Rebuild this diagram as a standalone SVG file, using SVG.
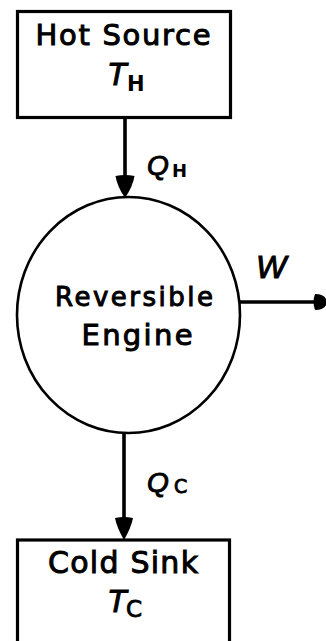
<svg xmlns="http://www.w3.org/2000/svg" width="326" height="641" viewBox="0 0 326 641">
<style>
.box{fill:#fff;stroke:#000;stroke-width:3.2}
.eng{fill:#fff;stroke:#000;stroke-width:2.6}
.lbl{font-family:"DejaVu Sans","Liberation Sans",sans-serif;fill:#000;stroke:#000;stroke-width:1;text-anchor:middle}
.it{font-family:"Liberation Sans",sans-serif;font-style:italic;fill:#000;stroke:#000;stroke-width:1}
.sub{font-family:"DejaVu Sans","Liberation Sans",sans-serif;font-weight:bold;fill:#000}
.subn{font-family:"DejaVu Sans","Liberation Sans",sans-serif;fill:#000;stroke:#000;stroke-width:0.9}
.wire{stroke:#000;stroke-width:3.6;fill:none}
.head{fill:#000}
</style>
<rect width="326" height="641" fill="#fff"/>
<g id="connectors">
<line class="wire" x1="125" y1="117" x2="125" y2="182"/>
<path class="head" d="M115.5,176 Q125,174 134.5,176 Q133,186 125,198 Q117,186 115.5,176 Z"/>
<line class="wire" x1="124" y1="433" x2="124" y2="522"/>
<path class="head" d="M115,518 Q124,516 133,518 Q131,528 124,540 Q117,528 115,518 Z"/>
<line class="wire" x1="236" y1="302" x2="318" y2="302"/>
<path class="head" d="M315,294 Q326,294 327,302 Q326,310 315,310 Q312,302 315,294 Z"/>
<circle class="head" cx="236" cy="302" r="2.6"/>
</g>
<g id="hot-source">
<rect class="box" x="17.5" y="11.5" width="213" height="106"/>
<text class="lbl" x="123" y="45" font-size="29" textLength="175" lengthAdjust="spacing">Hot Source</text>
<text class="it" x="107" y="85" font-size="32">T</text>
<text class="sub" x="127" y="91" font-size="21">H</text>
</g>
<g id="engine">
<ellipse class="eng" cx="128.5" cy="315" rx="111.5" ry="118"/>
<text class="lbl" x="134" y="306" font-size="26" textLength="158" lengthAdjust="spacing">Reversible</text>
<text class="lbl" x="137" y="345" font-size="29" textLength="111" lengthAdjust="spacing">Engine</text>
</g>
<g id="cold-sink">
<rect class="box" x="17.5" y="540" width="212" height="110"/>
<text class="lbl" x="123" y="573" font-size="30" textLength="150" lengthAdjust="spacing">Cold Sink</text>
<text class="it" x="107" y="612" font-size="32">T</text>
<text class="subn" x="126" y="617" font-size="23">C</text>
</g>
<g id="labels">
<text class="it" x="147" y="175" font-size="28">Q</text>
<text class="sub" x="172" y="177" font-size="18">H</text>
<text class="it" x="256" y="278" font-size="32">W</text>
<text class="it" x="147" y="492" font-size="28">Q</text>
<text class="subn" x="174" y="493" font-size="19">C</text>
</g>
</svg>
